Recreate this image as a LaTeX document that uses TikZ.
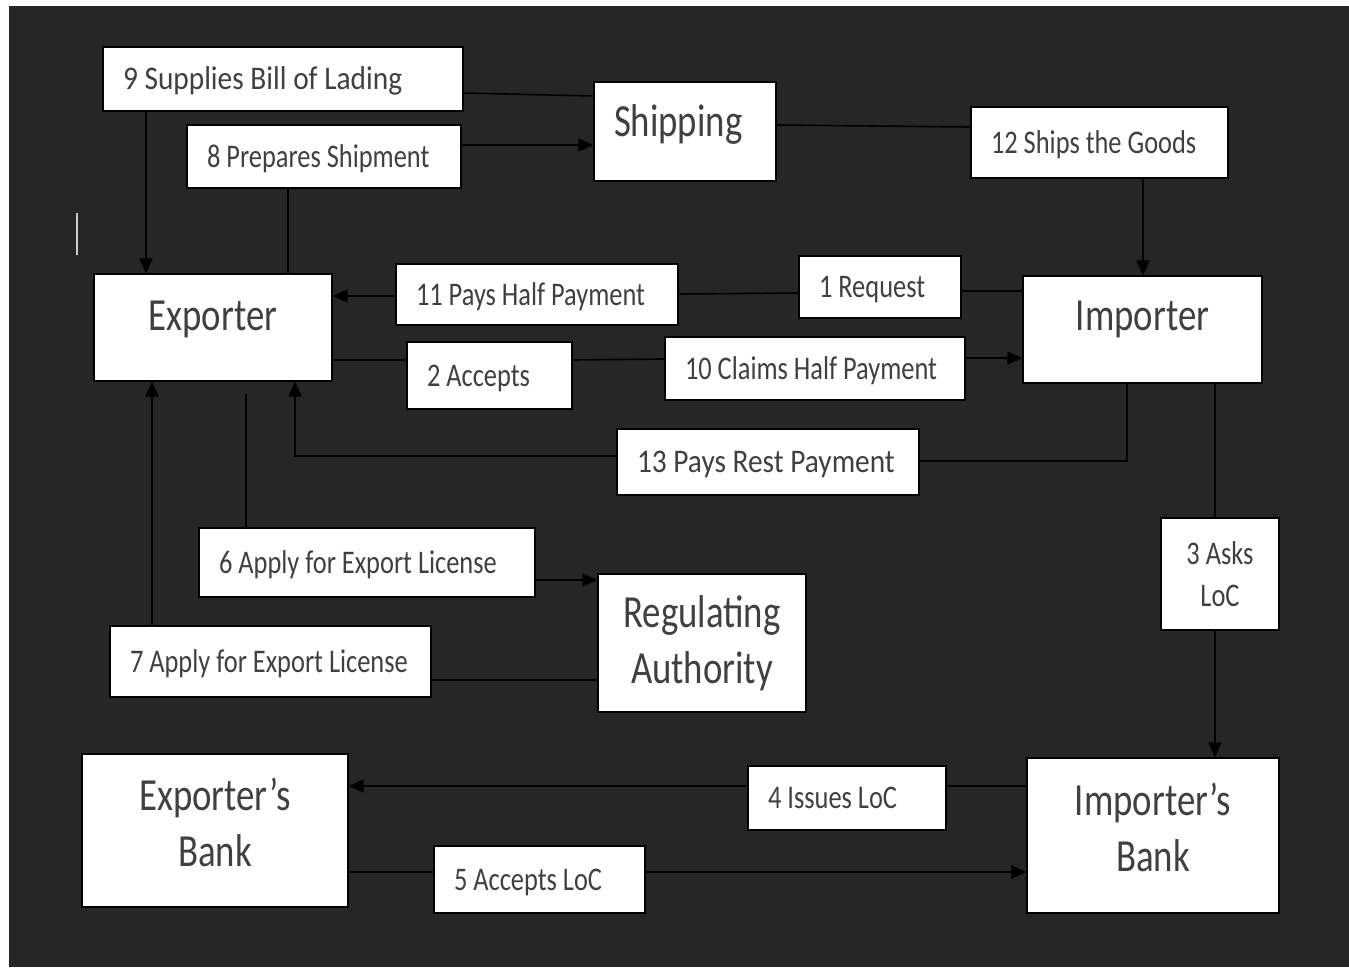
\documentclass[tikz,border=0pt]{standalone}
\usepackage{fontspec}
\setmainfont{Carlito}[FakeStretch=0.8]
\newfontfamily\widefont{Carlito}[FakeStretch=0.89]
\usepackage{xcolor}
\usepackage{tikz}
\usetikzlibrary{arrows.meta}
\definecolor{bgdark}{RGB}{38,38,38}
\definecolor{inkgray}{RGB}{64,64,64}
\tikzset{
  wbox/.style={draw=black, line width=1.2pt, fill=white, text=inkgray, inner sep=0pt},
  lblc/.style={wbox, font=\fontsize{33}{42}\selectfont, align=center},
  lbl/.style={wbox, font=\fontsize{33}{42}\selectfont, align=flush left,
              inner xsep=20pt, text height=21pt, text depth=0pt},
  widelbl/.style={lbl, font=\widefont\fontsize{33}{42}\selectfont},
  actor/.style={wbox, font=\fontsize{46}{56}\selectfont, align=center},
  oneline/.style={text height=30pt, text depth=24pt},
  flow/.style={-{Triangle[length=15pt,width=13pt]}, line width=1.6pt, black},
  link/.style={line width=1.6pt, black},
}
\begin{document}
\begin{tikzpicture}[x=1pt, y=-1pt]
  \useasboundingbox (0,0) rectangle (1349,967);
  \fill[white] (0,0) rectangle (1349,967);
  \fill[bgdark] (9,6) rectangle (1349,967);
  \draw[white!80!black, line width=1.5pt] (77,213) -- (77,255);

  % parties
  \node[actor, oneline, text depth=20pt, align=flush left, inner xsep=20pt, text width=142pt, minimum height=99pt] (shipping) at (685,131.5) {Shipping};
  \node[actor, oneline, minimum width=238pt, minimum height=107pt] (exporter) at (213,327.5) {Exporter};
  \node[actor, oneline, text depth=28pt, minimum width=239pt, minimum height=107pt] (importer) at (1142.5,329.5) {Importer};
  \node[actor, minimum width=208pt, minimum height=138pt] (regulating) at (702,643) {Regulating\\Authority};
  \node[actor, text depth=16pt, minimum width=266pt, minimum height=153pt] (expbank) at (215,830.5) {Exporter’s\\Bank};
  \node[actor, text depth=16pt, minimum width=252pt, minimum height=155pt] (impbank) at (1153,835.5) {Importer’s\\Bank};

  % steps
  \node[widelbl, text width=320pt, minimum height=64pt] (b9) at (283,79) {9 Supplies Bill of Lading};
  \node[lbl, text width=234pt, minimum height=63pt] (b8) at (324,156.5) {8 Prepares Shipment};
  \node[lbl, text width=217pt, minimum height=71pt] (b12) at (1099.5,142.5) {12 Ships the Goods};
  \node[lbl, text width=242pt, minimum height=61pt] (b11) at (537,294.5) {11 Pays Half Payment};
  \node[lbl, text width=122pt, minimum height=62pt] (b1) at (880,287) {1 Request};
  \node[lbl, text width=125pt, minimum height=67pt] (b2) at (489.5,375.5) {2 Accepts};
  \node[lbl, text width=260pt, minimum height=63pt] (b10) at (815,368.5) {10 Claims Half Payment};
  \node[widelbl, text width=262pt, minimum height=66pt] (b13) at (768,462) {13 Pays Rest Payment};
  \node[lblc, minimum width=118pt, minimum height=112pt] (b3) at (1220,574) {3 Asks\\LoC};
  \node[lbl, text width=296pt, minimum height=69pt] (b6) at (367,562.5) {6 Apply for Export License};
  \node[lbl, text width=281pt, minimum height=71pt] (b7) at (270.5,661.5) {7 Apply for Export License};
  \node[lbl, text width=158pt, minimum height=64pt] (b4) at (847,798) {4 Issues LoC};
  \node[lbl, text width=171pt, minimum height=67pt] (b5) at (539.5,879.5) {5 Accepts LoC};

  % shipping
  \draw[link] (shipping.west |- 0,96) -- (b9.east |- 0,93);
  \draw[flow] (b9.south -| 146,0) -- (exporter.north -| 146,0);
  \draw[link] (exporter.north -| 288,0) -- (b8.south -| 288,0);
  \draw[flow] (b8.east |- 0,145) -- (shipping.west |- 0,145);
  \draw[link] (shipping.east |- 0,125) -- (b12.west |- 0,127);
  \draw[flow] (b12.south -| 1143,0) -- (importer.north -| 1143,0);

  % request and payments
  \draw[link] (importer.west |- 0,291) -- (b1.east |- 0,291);
  \draw[link] (b1.west |- 0,293) -- (b11.east |- 0,294);
  \draw[flow] (b11.west |- 0,296) -- (exporter.east |- 0,296);
  \draw[link] (exporter.east |- 0,360) -- (b2.west |- 0,360);
  \draw[link] (b2.east |- 0,360) -- (b10.west |- 0,359);
  \draw[flow] (b10.east |- 0,358) -- (importer.west |- 0,358);
  \draw[link] (importer.south -| 1127,0) |- (b13.east |- 0,461);
  \draw[flow] (b13.west |- 0,456) -| (exporter.south -| 295,0);

  % letter of credit
  \draw[link] (importer.south -| 1215,0) -- (b3.north -| 1215,0);
  \draw[flow] (b3.south -| 1215,0) -- (impbank.north -| 1215,0);
  \draw[link] (impbank.west |- 0,786) -- (b4.east |- 0,786);
  \draw[flow] (b4.west |- 0,786) -- (expbank.east |- 0,786);
  \draw[link] (expbank.east |- 0,872) -- (b5.west |- 0,872);
  \draw[flow] (b5.east |- 0,872) -- (impbank.west |- 0,872);

  % export license
  \draw[link, shorten <=12pt] (exporter.south -| 246,0) -- (b6.north -| 246,0);
  \draw[flow] (b6.east |- 0,580) -- (regulating.west |- 0,580);
  \draw[link] (regulating.west |- 0,680) -- (b7.east |- 0,680);
  \draw[flow] (b7.north -| 152,0) -- (exporter.south -| 152,0);
\end{tikzpicture}
\end{document}
